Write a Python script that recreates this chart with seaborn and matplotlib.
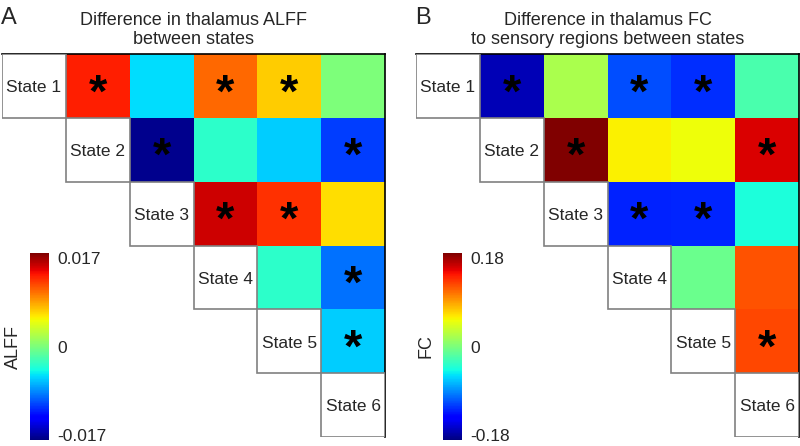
import numpy as np
import matplotlib
matplotlib.use("Agg")
import matplotlib.pyplot as plt
from matplotlib.patches import Rectangle
import seaborn as sns

states = ["State 1", "State 2", "State 3", "State 4", "State 5", "State 6"]

# upper triangle, row by row (state i vs states i+1..6)
alff_rows = [
    [0.0135, -0.0057, 0.0107, 0.0070, 0.0],
    [-0.0175, -0.0035, -0.0063, -0.0113],
    [0.0156, 0.0128, 0.0063],
    [-0.0035, -0.0095],
    [-0.0063],
]
alff_sig = [
    [1, 0, 1, 1, 0],
    [1, 0, 0, 1],
    [1, 1, 0],
    [0, 1],
    [1],
]

fc_rows = [
    [-0.172, 0.021, -0.114, -0.125, -0.023],
    [0.19, 0.059, 0.052, 0.159],
    [-0.13, -0.128, -0.044],
    [-0.008, 0.123],
    [0.127],
]
fc_sig = [
    [1, 0, 1, 1, 0],
    [1, 0, 0, 1],
    [1, 1, 0],
    [0, 0],
    [1],
]

alff_ticks = [-0.017, 0, 0.017]
fc_ticks = [-0.18, 0, 0.18]


def to_matrix(rows, sig):
    n = len(states)
    vals = np.full((n, n), np.nan)
    stars = np.full((n, n), "", dtype=object)
    for i, (r, s) in enumerate(zip(rows, sig)):
        for k, (v, f) in enumerate(zip(r, s)):
            vals[i, i + 1 + k] = v
            stars[i, i + 1 + k] = "*" if f else ""
    return vals, stars


sns.set_style("white")
plt.rcParams["font.family"] = ["Liberation Sans", "DejaVu Sans"]

fig = plt.figure(figsize=(8, 4.46), dpi=100)


def panel(left, cb_left, rows, sig, lim, ticks, title, letter, cblabel):
    ax = fig.add_axes([left, 0.0202, 0.479, 0.8587])
    cax = fig.add_axes([cb_left, 0.0135, 0.024, 0.419])
    vals, stars = to_matrix(rows, sig)
    sns.heatmap(vals, mask=np.isnan(vals), cmap="jet", vmin=-lim, vmax=lim,
                annot=stars, fmt="", ax=ax, cbar_ax=cax,
                annot_kws={"size": 34, "color": "black", "weight": "bold"},
                xticklabels=False, yticklabels=False)
    # asterisks sit high in the font, push them down a bit
    for t in ax.texts:
        x, y = t.get_position()
        t.set_position((x, y + 0.13))
    for i, s in enumerate(states):
        ax.add_patch(Rectangle((i, i), 1, 1, facecolor="white",
                               edgecolor="#808080", lw=1.2, zorder=3))
        ax.text(i + 0.5, i + 0.53, s, ha="center", va="center",
                fontsize=12.5, zorder=4)
    for side in ["top", "right"]:
        ax.spines[side].set_visible(True)
        ax.spines[side].set_color("black")
        ax.spines[side].set_linewidth(1.2)
    ax.set_title(title, fontsize=13, pad=7, linespacing=1.15)
    fig.text(left - 0.001, 0.985, letter, fontsize=17, va="top", ha="left")

    cb = ax.collections[0].colorbar
    cb.outline.set_visible(False)
    cb.set_ticks(ticks)
    cb.set_ticklabels([f"{t:g}" for t in ticks])
    cax.tick_params(length=0, labelsize=12.5, pad=6)
    cax.yaxis.set_label_position("left")
    cax.set_ylabel(cblabel, fontsize=13, labelpad=6)


panel(0.0025, 0.0375, alff_rows, alff_sig, 0.018, alff_ticks,
      "Difference in thalamus ALFF\nbetween states", "A", "ALFF")
panel(0.52, 0.554, fc_rows, fc_sig, 0.19, fc_ticks,
      "Difference in thalamus FC\nto sensory regions between states", "B", "FC")

fig.savefig("out.png", dpi=100)
